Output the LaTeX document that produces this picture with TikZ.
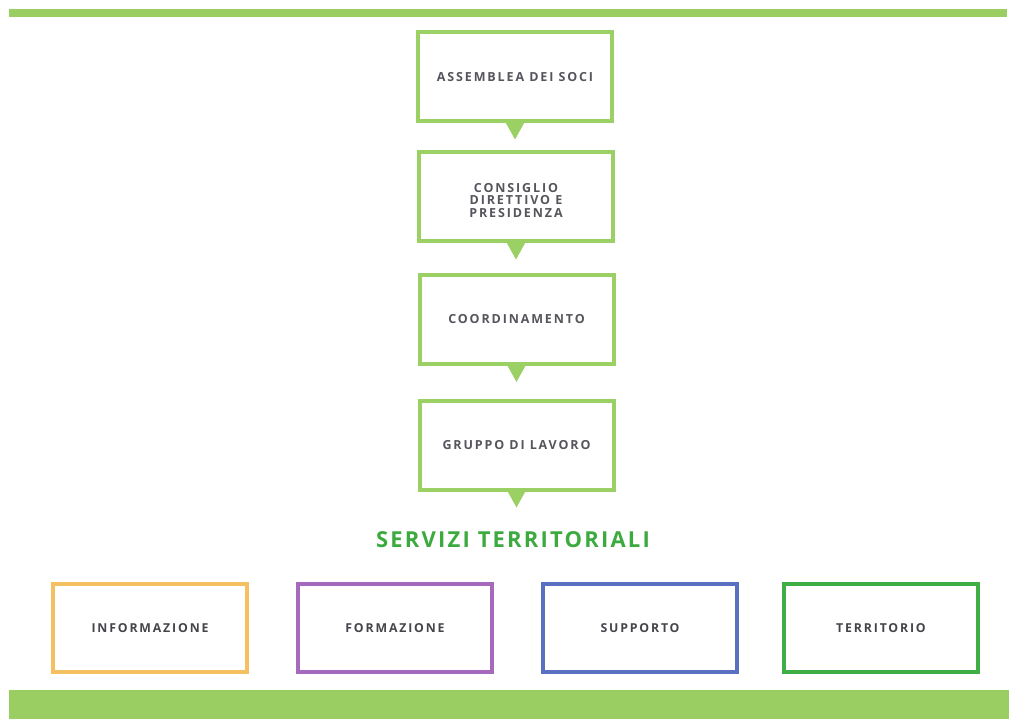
\documentclass[tikz,border=0pt]{standalone}
\usepackage{fontspec}
\setmainfont{Open Sans}
\newfontfamily\boxfont[LetterSpace=15]{Open Sans Bold}
\newfontfamily\titlefont[LetterSpace=10]{Open Sans Bold}
\definecolor{bargreen}{HTML}{9ACD62}
\definecolor{boxgreen}{HTML}{9BD064}
\definecolor{titlegreen}{HTML}{3CAA3E}
\definecolor{txtgray}{HTML}{55555C}
\definecolor{orangeb}{HTML}{F5C062}
\definecolor{purpleb}{HTML}{A569BD}
\definecolor{blueb}{HTML}{5A70C0}
\definecolor{greenb}{HTML}{3FAE45}
\tikzset{
  chainbox/.style={draw=boxgreen, line width=4pt, outer sep=0pt, minimum width=194pt, minimum height=89pt, inner sep=0pt, align=center, text=txtgray, font=\boxfont\fontsize{12.5}{12.5}\selectfont},
  servbox/.style={line width=4pt, outer sep=0pt, minimum width=194pt, minimum height=88pt, inner sep=0pt, align=center, text=txtgray!80!black, font=\boxfont\fontsize{12.3}{12.5}\selectfont},
  tri/.style={fill=boxgreen}
}
\begin{document}
\begin{tikzpicture}[x=1pt,y=-1pt]
\useasboundingbox (0,0) rectangle (1009,719);
\fill[bargreen] (9,9) rectangle (1007,17);
\fill[bargreen] (9,690) rectangle (1009,719);
\node[chainbox] (b1) at (515,77) {ASSEMBLEA DEI SOCI};
\node[chainbox] (b2) at (516,197) {\rule{0pt}{16pt}CONSIGLIO\\DIRETTIVO E\\PRESIDENZA};
\node[chainbox] (b3) at (516.5,319.5) {COORDINAMENTO};
\node[chainbox] (b4) at (516.5,445) {GRUPPO DI LAVORO};
\foreach \n in {b1,b2,b3,b4}{
  \fill[tri] ([xshift=-10.5pt,yshift=1pt]\n.south) -- ([xshift=10.5pt,yshift=1pt]\n.south) -- ([yshift=-18pt]\n.south) -- cycle;
}
\node[text=titlegreen, font=\titlefont\fontsize{22}{24}\selectfont, inner sep=0pt] (title) at (513,540) {SERVIZI TERRITORIALI};
\node[servbox, draw=orangeb] (s1) at (150,628) {INFORMAZIONE};
\node[servbox, draw=purpleb] (s2) at (395,628) {FORMAZIONE};
\node[servbox, draw=blueb] (s3) at (640,628) {SUPPORTO};
\node[servbox, draw=greenb] (s4) at (881,628) {TERRITORIO};
\end{tikzpicture}
\end{document}
